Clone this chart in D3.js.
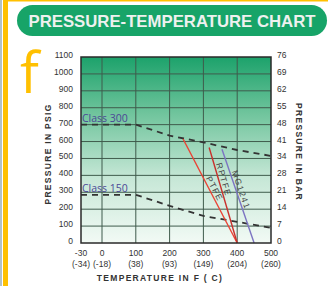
<!DOCTYPE html>
<html><head><meta charset="utf-8">
<script src="https://cdn.jsdelivr.net/npm/d3@7"></script>
<style>html,body{margin:0;padding:0;background:#fff;}svg{display:block;}</style>
</head><body>
<svg id="chart" width="328" height="286"></svg>
<script>
// ---- data ----
const tempTicks = [-30, 0, 100, 200, 300, 400, 500];
const celsiusLabels = ["(-34)", "(-18)", "(38)", "(93)", "(149)", "(204)", "(260)"];
const psigTicks = [0, 100, 200, 300, 400, 500, 600, 700, 800, 900, 1000, 1100];
const barLabels = ["0", "7", "14", "21", "28", "34", "41", "48", "55", "62", "69", "76"];
const classTemps = [-30, 100, 200, 300, 400, 500];
const class300Psig = [700, 700, 635, 595, 550, 515];
const class150Psig = [285, 285, 220, 160, 125, 90];
const seatNames = ["PTFE", "RPTFE", "MG1241"];
const seatTemps = [[240, 400], [317, 400], [355, 450]];
const seatPsig = [[615, 0], [565, 0], [555, 0]];
const seatColors = ["#ea4335", "#c9302c", "#7c74c2"];
const seatLabelPos = [0.5, 0.35, 0.45];

// ---- layout ----
const svg = d3.select("#chart");
const x = d3.scaleLinear().domain([-30, 0, 500]).range([81, 102, 271]);
const y = d3.scaleLinear().domain([0, 1100]).range([243, 57]);

// decorations
svg.append("rect").attr("x", 0).attr("y", 0).attr("width", 2).attr("height", 286).attr("fill", "#b3c2c8");
svg.append("rect").attr("x", 3).attr("y", 0).attr("width", 5).attr("height", 286).attr("fill", "#ffc000");
svg.append("rect").attr("x", 8).attr("y", 0).attr("width", 320).attr("height", 1.5).attr("fill", "#ffc000");

// title pill
svg.append("rect").attr("x", 17).attr("y", 5).attr("width", 310).attr("height", 31).attr("rx", 15.5)
  .attr("fill", "#17a468");
svg.append("text").attr("x", 172).attr("y", 27).attr("text-anchor", "middle")
  .attr("font-family", "Liberation Sans, Arial, sans-serif").attr("font-weight", "bold")
  .attr("font-size", 16.5).attr("fill", "#eef1ef")
  .attr("textLength", 287).attr("lengthAdjust", "spacingAndGlyphs")
  .text("PRESSURE-TEMPERATURE CHART");

// yellow f
svg.append("text").attr("x", 20).attr("y", 93)
  .attr("font-family", "Open Sans, sans-serif").attr("font-size", 56).attr("fill", "#ffc000")
  .text("f");

// gradient
const defs = svg.append("defs");
const grad = defs.append("linearGradient").attr("id", "bg").attr("x1", 0).attr("y1", 0).attr("x2", 0).attr("y2", 1);
[["0%", "#1ca26b"], ["30%", "#6fc49c"], ["65%", "#c6e7d6"], ["100%", "#f2faf5"]].forEach(s =>
  grad.append("stop").attr("offset", s[0]).attr("stop-color", s[1]));

svg.append("rect").attr("x", x(-30)).attr("y", y(1100))
  .attr("width", x(500) - x(-30)).attr("height", y(0) - y(1100)).attr("fill", "url(#bg)");

// grid
const g = svg.append("g");
g.selectAll("line.h").data(psigTicks.filter(d => d > 0 && d < 1100)).join("line")
  .attr("x1", x(-30)).attr("x2", x(500)).attr("y1", d => y(d)).attr("y2", d => y(d))
  .attr("stroke", "#3f5b4c").attr("stroke-width", 1);
g.selectAll("line.v").data(tempTicks.filter(d => d > -30 && d < 500)).join("line")
  .attr("y1", y(0)).attr("y2", y(1100)).attr("x1", d => x(d)).attr("x2", d => x(d))
  .attr("stroke", "#3f5b4c").attr("stroke-width", 1);

// class lines
const classLine = d3.line().x((d, i) => x(classTemps[i])).y(d => y(d));
[class300Psig, class150Psig].forEach(arr => {
  svg.append("path").attr("d", classLine(arr)).attr("fill", "none")
    .attr("stroke", "#333").attr("stroke-width", 1.8).attr("stroke-dasharray", "6,5");
});
svg.append("text").attr("x", 82).attr("y", y(700) - 3).attr("font-family", "Open Sans, sans-serif")
  .attr("font-size", 10.5).attr("fill", "#4a4896").text("Class 300");
svg.append("text").attr("x", 82).attr("y", y(285) - 3).attr("font-family", "Open Sans, sans-serif")
  .attr("font-size", 10.5).attr("fill", "#4a4896").text("Class 150");

// seat lines
seatNames.forEach((name, i) => {
  const p0 = [x(seatTemps[i][0]), y(seatPsig[i][0])];
  const p1 = [x(seatTemps[i][1]), y(seatPsig[i][1])];
  svg.append("line").attr("x1", p0[0]).attr("y1", p0[1]).attr("x2", p1[0]).attr("y2", p1[1])
    .attr("stroke", seatColors[i]).attr("stroke-width", 1.4);
  const t = seatLabelPos[i];
  const px = p0[0] + (p1[0] - p0[0]) * t, py = p0[1] + (p1[1] - p0[1]) * t;
  const ang = Math.atan2(p1[1] - p0[1], p1[0] - p0[0]) * 180 / Math.PI;
  const ux = Math.sin(ang * Math.PI / 180), uy = -Math.cos(ang * Math.PI / 180);
  svg.append("text").attr("transform", `translate(${px + ux * 2},${py + uy * 2}) rotate(${ang})`)
    .attr("text-anchor", "middle").attr("font-family", "Liberation Sans, Arial, sans-serif")
    .attr("font-size", 8.5).attr("letter-spacing", 1.3).attr("fill", "#444").text(name);
});

// border
svg.append("rect").attr("x", x(-30)).attr("y", y(1100))
  .attr("width", x(500) - x(-30)).attr("height", y(0) - y(1100))
  .attr("fill", "none").attr("stroke", "#2a2a2a").attr("stroke-width", 1.5);

// left axis labels
svg.selectAll("text.yl").data(psigTicks).join("text").attr("class", "yl")
  .attr("x", 73).attr("y", d => y(d) + 1).attr("text-anchor", "end")
  .attr("font-family", "Liberation Sans, Arial, sans-serif").attr("font-size", 8.5).attr("fill", "#333")
  .text(d => d);
// right axis labels
svg.selectAll("text.yr").data(psigTicks).join("text").attr("class", "yr")
  .attr("x", 277).attr("y", (d, i) => y(d) + 1)
  .attr("font-family", "Liberation Sans, Arial, sans-serif").attr("font-size", 8.5).attr("fill", "#333")
  .text((d, i) => barLabels[i]);
// bottom labels
svg.selectAll("text.xl").data(tempTicks).join("text").attr("class", "xl")
  .attr("x", d => x(d)).attr("y", 256).attr("text-anchor", "middle")
  .attr("font-family", "Liberation Sans, Arial, sans-serif").attr("font-size", 8.5).attr("fill", "#333")
  .text(d => d);
svg.selectAll("text.xc").data(tempTicks).join("text").attr("class", "xc")
  .attr("x", d => x(d)).attr("y", 267).attr("text-anchor", "middle")
  .attr("font-family", "Liberation Sans, Arial, sans-serif").attr("font-size", 8.5).attr("fill", "#333")
  .text((d, i) => celsiusLabels[i]);

// axis titles
const titleFont = s => s.attr("font-family", "Liberation Sans, Arial, sans-serif").attr("font-weight", "bold")
  .attr("font-size", 8.5).attr("letter-spacing", 1.3).attr("fill", "#333").attr("text-anchor", "middle");
svg.append("text").attr("x", 160).attr("y", 281).call(titleFont).text("TEMPERATURE IN  F ( C)");
svg.append("text").attr("transform", "translate(51,154) rotate(-90)").call(titleFont).text("PRESSURE IN PSIG");
svg.append("text").attr("transform", "translate(296,152) rotate(90)").call(titleFont).text("PRESSURE IN BAR");
</script>
</body></html>
